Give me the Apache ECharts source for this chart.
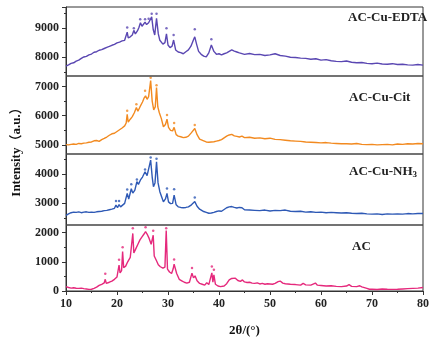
<!DOCTYPE html>
<html>
<head>
<meta charset="utf-8">
<script src="https://cdn.jsdelivr.net/npm/echarts@6/dist/echarts.min.js"></script>
<style>
  html, body { margin: 0; padding: 0; background: #fff; }
  #main { width: 432px; height: 342px; }
</style>
</head>
<body>
<div id="main"></div>
<script>
/* 样品名称 */
var sampleNames = ['AC-Cu-EDTA', 'AC-Cu-Cit', 'AC-Cu-NH3', 'AC'];
var colors = ['#5a47b2', '#f28a20', '#2e59b5', '#e5297c'];
/* 分隔线位置 (强度) */
var separators = [2270, 4690, 7360];
var yTicks = [0, 1000, 2000, 3000, 4000, 5000, 6000, 7000, 8000, 9000];

/* XRD 曲线 [2θ, 强度] */
var edtaData = [[10,7700],[10.5,7740],[11,7790],[11.5,7810],[12,7870],[12.5,7900],[13,7960],[13.5,8010],[14,8030],[14.5,8080],[15,8110],[15.5,8170],[16,8190],[16.5,8240],[17,8260],[17.5,8300],[18,8340],[18.5,8370],[19,8410],[19.5,8440],[20,8490],[20.5,8520],[21,8560],[21.5,8580],[21.8,8640],[22,8860],[22.2,8660],[22.6,8700],[23,8760],[23.3,8920],[23.6,8800],[24,8900],[24.3,9020],[24.6,9180],[24.9,9060],[25.2,9100],[25.5,9200],[25.8,9120],[26.2,9180],[26.5,9150],[26.8,9380],[27.1,8950],[27.4,8760],[27.75,9330],[28.1,8800],[28.4,8580],[29,8450],[29.4,8500],[29.7,8800],[30,8420],[30.4,8330],[30.8,8380],[31.1,8590],[31.5,8250],[32,8180],[32.5,8160],[33,8120],[33.5,8190],[34,8250],[34.5,8380],[35,8600],[35.25,8700],[35.6,8450],[36,8200],[36.5,8100],[37,8040],[37.5,8010],[38,8150],[38.5,8420],[39,8200],[39.5,8100],[40,8120],[40.5,8080],[41,8120],[41.5,8150],[42,8200],[42.5,8250],[43,8210],[43.5,8180],[44,8150],[45,8100],[46,8130],[47,8090],[48,8100],[49,8060],[50,8080],[51,8120],[52,8060],[53,8040],[54,8000],[55,7990],[56,7970],[57,7960],[58,7930],[59,7950],[60,7900],[61,7920],[62,7880],[63,7860],[64,7850],[65,7870],[66,7830],[67,7810],[68,7820],[69,7790],[70,7780],[71,7800],[72,7770],[73,7760],[74,7780],[75,7750],[76,7760],[77,7740],[78,7730],[79,7750],[80,7730]];
var citData = [[10,5010],[10.5,5000],[11,5020],[11.5,5030],[12,5020],[12.5,5050],[13,5040],[13.5,5060],[14,5070],[14.5,5090],[15,5100],[15.5,5140],[16,5150],[16.5,5120],[17,5180],[17.5,5220],[18,5270],[18.5,5330],[19,5380],[19.5,5400],[20,5460],[20.5,5520],[21,5580],[21.5,5650],[21.8,5750],[22,6050],[22.2,5780],[22.6,5880],[23,5970],[23.4,6100],[23.8,6280],[24.1,6150],[24.5,6300],[25,6470],[25.3,6600],[25.6,6680],[25.9,6560],[26.2,6650],[26.6,7200],[26.9,6500],[27.2,6200],[27.5,6300],[27.75,6960],[28,6300],[28.3,6100],[28.7,5900],[29.1,5620],[29.5,5700],[29.8,5880],[30.1,5600],[30.5,5500],[30.9,5480],[31.2,5600],[31.6,5350],[32,5300],[32.5,5280],[33,5250],[33.5,5260],[34,5300],[34.6,5420],[35.25,5560],[35.7,5350],[36.2,5200],[37,5140],[37.5,5100],[38,5090],[38.5,5100],[39,5110],[39.5,5130],[40,5150],[40.5,5180],[41,5240],[41.5,5300],[42,5340],[42.5,5360],[43,5310],[43.5,5290],[44,5270],[44.5,5300],[45,5250],[46,5260],[47,5230],[48,5240],[49,5210],[50,5230],[51,5190],[52,5180],[53,5160],[54,5140],[55,5130],[56,5120],[57,5100],[58,5090],[59,5080],[60,5070],[61,5080],[62,5060],[63,5050],[64,5040],[65,5040],[66,5030],[67,5050],[68,5020],[69,5010],[70,5020],[71,5000],[72,5010],[73,5020],[74,5000],[75,5030],[76,5020],[77,5040],[78,5030],[79,5050],[80,5040]];
var nh3Data = [[10,2590],[10.5,2640],[11,2680],[11.5,2700],[12,2690],[12.5,2710],[13,2680],[13.5,2700],[14,2710],[14.5,2690],[15,2700],[15.5,2690],[16,2710],[16.5,2720],[17,2730],[17.5,2750],[18,2760],[18.5,2780],[19,2800],[19.5,2830],[19.8,2940],[20.1,2850],[20.4,2960],[20.7,2880],[21.1,2940],[21.5,3000],[22,3340],[22.3,3150],[22.8,3500],[23.1,3350],[23.5,3450],[23.9,3740],[24.2,3650],[24.6,3800],[25,3900],[25.5,4080],[25.9,3950],[26.2,4000],[26.6,4480],[26.9,3900],[27.15,3570],[27.45,3700],[27.75,4420],[28.05,3700],[28.4,3400],[28.8,3200],[29.1,3050],[29.5,3150],[29.8,3340],[30.1,3050],[30.5,2990],[30.9,3000],[31.2,3280],[31.6,2950],[32,2880],[32.5,2860],[33,2850],[33.5,2860],[34,2880],[34.6,2950],[35.25,3060],[35.7,2900],[36.2,2800],[37,2720],[37.5,2690],[38,2660],[38.5,2670],[39,2690],[39.5,2720],[40,2740],[40.5,2730],[41,2790],[41.5,2850],[42,2880],[42.5,2890],[43,2860],[43.5,2840],[44,2860],[44.5,2850],[45,2780],[46,2770],[47,2760],[48,2750],[49,2770],[50,2740],[51,2760],[52,2750],[53,2770],[54,2730],[55,2720],[56,2730],[57,2700],[58,2710],[59,2690],[60,2700],[61,2680],[62,2690],[63,2680],[64,2670],[65,2680],[66,2660],[67,2650],[68,2660],[69,2640],[70,2630],[71,2640],[72,2620],[73,2640],[74,2630],[75,2640],[76,2630],[77,2650],[78,2640],[79,2650],[80,2650]];
var acData = [[10,150],[10.5,120],[11,100],[11.5,110],[12,95],[12.5,90],[13,100],[13.5,80],[14,70],[14.5,55],[15,60],[15.5,90],[16,130],[16.5,190],[17,230],[17.5,280],[17.7,400],[17.9,260],[18.5,300],[19,340],[19.5,400],[20,480],[20.4,890],[20.6,620],[20.9,700],[21.1,1350],[21.3,800],[21.7,850],[22.1,1000],[22.6,1150],[23.1,1970],[23.3,1300],[23.7,1450],[24.1,1600],[24.5,1750],[24.9,1850],[25.3,1950],[25.6,2030],[25.9,1950],[26.3,1800],[26.7,1600],[26.9,1560],[27.1,1910],[27.3,1200],[27.7,1050],[28.1,900],[28.5,830],[29,780],[29.4,820],[29.65,2070],[29.9,750],[30.3,650],[30.7,600],[31,750],[31.2,920],[31.4,880],[31.7,600],[32.2,400],[32.7,350],[33.2,300],[33.7,270],[34.2,300],[34.7,610],[35,450],[35.3,520],[35.7,350],[36.2,260],[36.7,230],[37.2,200],[37.6,280],[38,220],[38.6,620],[38.8,300],[39,550],[39.3,230],[39.8,170],[40.3,150],[41,170],[41.5,250],[42,380],[42.5,430],[42.8,400],[43.2,440],[43.7,360],[44.2,330],[44.6,380],[45,310],[45.5,290],[46,300],[46.5,270],[47,260],[47.5,280],[48,240],[48.5,260],[49,230],[49.5,250],[50,240],[50.5,230],[51,260],[51.6,320],[52,340],[52.5,270],[53,250],[54,230],[55,220],[56,200],[56.5,260],[57,210],[58,200],[58.9,270],[59.3,200],[60,190],[61,170],[62,180],[63,160],[64,150],[65,170],[65.5,220],[66,160],[67,150],[67.6,180],[68,140],[69,90],[69.5,60],[70,60],[71,50],[72,70],[73,60],[74,55],[75,60],[76,70],[77,80],[78,90],[79,100],[80,120]];

/* 峰位标记 (*) */
var edtaPeaks = [[22,9020],[23.3,8990],[24.55,9300],[25.5,9300],[26.2,9320],[26.8,9490],[27.75,9490],[29.7,8990],[31.1,8760],[35.25,8960],[38.5,8620]];
var citPeaks = [[22,6170],[23.8,6390],[25.5,6850],[26.6,7300],[27.75,7040],[29.8,6020],[31.2,5750],[35.25,5680]];
var nh3Peaks = [[19.8,3080],[20.4,3080],[22,3475],[22.8,3655],[23.9,3815],[25.5,4155],[26.6,4565],[27.75,4530],[29.8,3510],[31.2,3485],[35.25,3200]];
var acPeaks = [[17.7,590],[20.4,1070],[21.1,1500],[23.1,2150],[25.6,2180],[27.1,2060],[29.65,2150],[31.2,1080],[34.7,785],[38.6,840],[39,730]];

var curves = [edtaData, citData, nh3Data, acData];
var peaks = [edtaPeaks, citPeaks, nh3Peaks, acPeaks];

var serif = '"Times New Roman", "Liberation Serif", "Noto Sans CJK SC", serif';
var myChart = echarts.init(document.getElementById('main'));

var series = [];
for (var i = 0; i < curves.length; i++) {
  series.push({
    name: sampleNames[i],
    type: 'line',
    data: curves[i],
    showSymbol: false,
    lineStyle: { color: colors[i], width: 1.4 },
    z: 3
  });
  series.push({
    name: sampleNames[i] + '*',
    type: 'scatter',
    data: peaks[i],
    symbol: 'circle',
    symbolSize: 2.5,
    itemStyle: { color: colors[i] },
    z: 4
  });
}
/* 面板之间的分隔线 */
series.push({
  type: 'line',
  data: [],
  markLine: {
    silent: true,
    symbol: 'none',
    label: { show: false },
    lineStyle: { color: '#444', width: 1.5, type: 'solid' },
    data: separators.map(function (v) { return { yAxis: v }; })
  }
});

var option = {
  animation: false,
  grid: { left: 66, right: 2, top: 7, bottom: 50, show: true, borderColor: '#333', borderWidth: 1 },
  xAxis: {
    type: 'value',
    min: 10, max: 80, interval: 10,
    name: '2θ/(°)',
    nameLocation: 'middle',
    nameGap: 33,
    nameTextStyle: { fontFamily: serif, fontWeight: 'bold', fontSize: 13, color: '#111' },
    axisLine: { lineStyle: { color: '#333', width: 1 } },
    axisTick: { inside: false, length: 4, lineStyle: { color: '#333' } },
    minorTick: { show: true, splitNumber: 2, length: 2, lineStyle: { color: '#333' } },
    axisLabel: { fontFamily: serif, fontWeight: 'bold', fontSize: 12, color: '#222', margin: 7 },
    splitLine: { show: false }
  },
  yAxis: {
    type: 'value',
    min: 0, max: 9720, interval: 1000,
    name: 'Intensity（a.u.）',
    nameLocation: 'middle',
    nameGap: 43,
    nameTextStyle: { fontFamily: serif, fontWeight: 'bold', fontSize: 13, color: '#111' },
    axisLine: { lineStyle: { color: '#333', width: 1 } },
    axisTick: { inside: false, length: 4, lineStyle: { color: '#333' } },
    minorTick: { show: true, splitNumber: 2, length: 2, lineStyle: { color: '#333' } },
    axisLabel: {
      fontFamily: serif, fontWeight: 'bold', fontSize: 12, color: '#222', margin: 7,
      showMaxLabel: false,
      formatter: function (v) { return yTicks.indexOf(v) >= 0 ? String(v) : ''; }
    },
    splitLine: { show: false }
  },
  graphic: [
    { type: 'text', left: 348, top: 11, style: { text: sampleNames[0], font: 'bold 13px ' + serif, fill: '#222' } },
    { type: 'text', left: 349, top: 91, style: { text: sampleNames[1], font: 'bold 13px ' + serif, fill: '#222' } },
    { type: 'text', left: 349, top: 165, style: {
        text: '{a|AC-Cu-NH}{s|3}',
        rich: {
          a: { fontFamily: serif, fontWeight: 'bold', fontSize: 13, fill: '#222', color: '#222' },
          s: { fontFamily: serif, fontWeight: 'bold', fontSize: 9, fill: '#222', color: '#222', verticalAlign: 'bottom', padding: [6, 0, 0, 0] }
        }
      } },
    { type: 'text', left: 352, top: 240, style: { text: sampleNames[3], font: 'bold 13px ' + serif, fill: '#222' } }
  ],
  series: series
};

myChart.setOption(option);
</script>
</body>
</html>
